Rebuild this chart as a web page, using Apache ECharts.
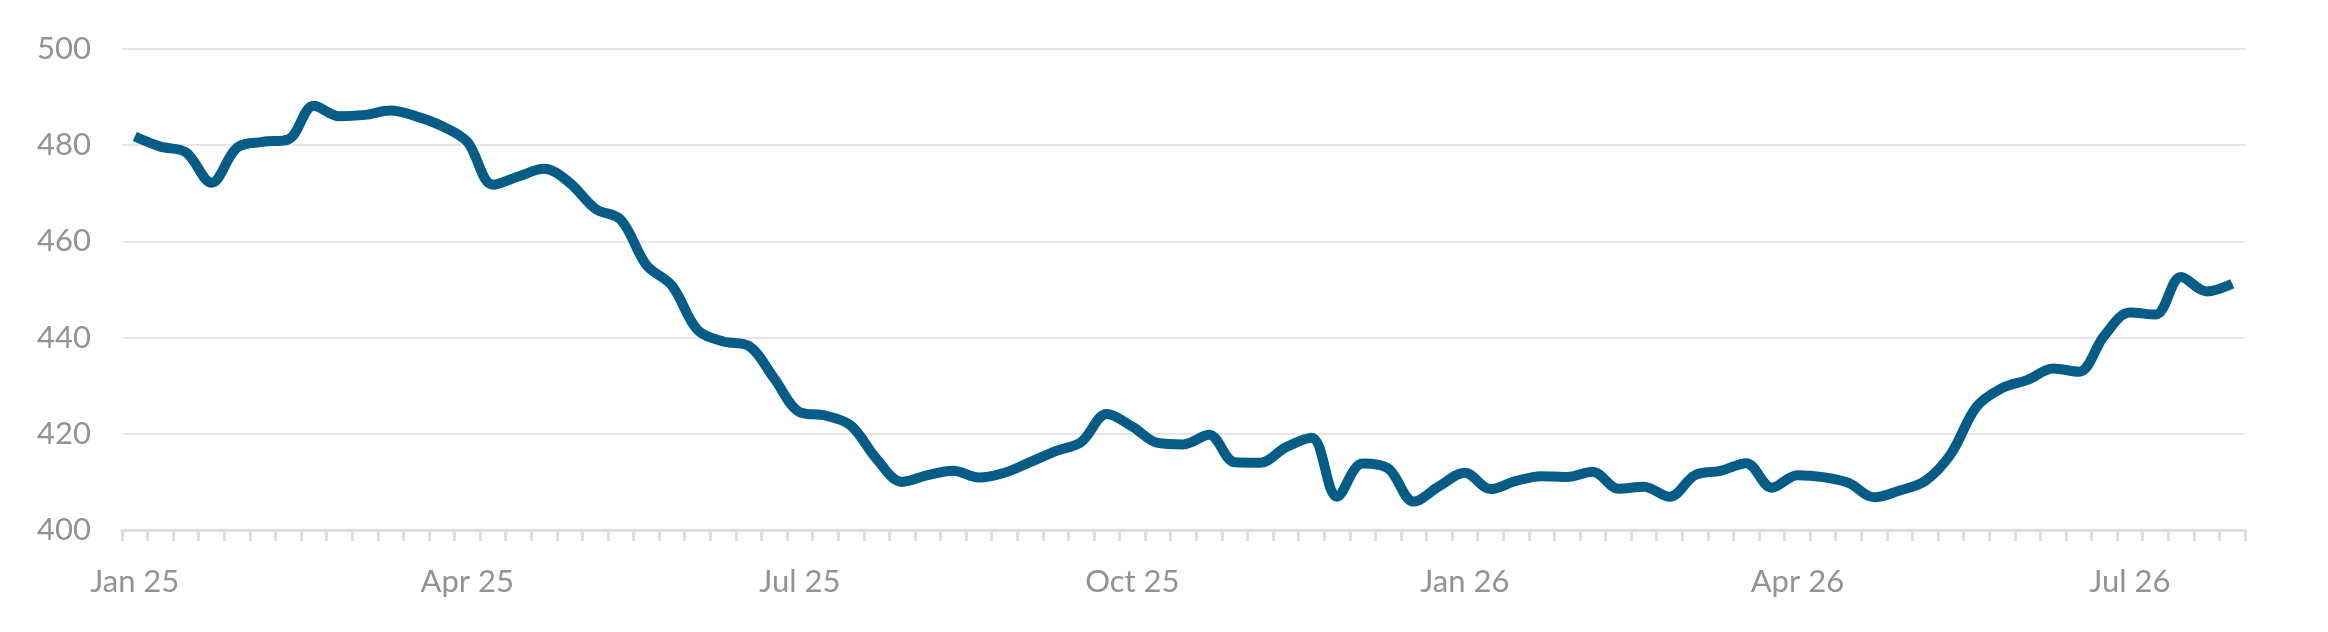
<!DOCTYPE html>
<html>
<head>
<meta charset="utf-8">
<script src="https://cdn.jsdelivr.net/npm/echarts@6/dist/echarts.min.js"></script>
<style>
html,body{margin:0;padding:0;background:#ffffff;}
#chart{width:2328px;height:632px;}
</style>
</head>
<body>
<div id="chart"></div>
<script>
// Weekly observation dates (category axis)
const weeks = [
  '2025-01-03','2025-01-10','2025-01-17','2025-01-24','2025-01-31',
  '2025-02-07','2025-02-14','2025-02-21','2025-02-28',
  '2025-03-07','2025-03-14','2025-03-21','2025-03-28',
  '2025-04-04','2025-04-11','2025-04-18','2025-04-25',
  '2025-05-02','2025-05-09','2025-05-16','2025-05-23','2025-05-30',
  '2025-06-06','2025-06-13','2025-06-20','2025-06-27',
  '2025-07-04','2025-07-11','2025-07-18','2025-07-25',
  '2025-08-01','2025-08-08','2025-08-15','2025-08-22','2025-08-29',
  '2025-09-05','2025-09-12','2025-09-19','2025-09-26',
  '2025-10-03','2025-10-10','2025-10-17','2025-10-24','2025-10-31',
  '2025-11-07','2025-11-14','2025-11-21','2025-11-28',
  '2025-12-05','2025-12-12','2025-12-19','2025-12-26',
  '2026-01-02','2026-01-09','2026-01-16','2026-01-23','2026-01-30',
  '2026-02-06','2026-02-13','2026-02-20','2026-02-27',
  '2026-03-06','2026-03-13','2026-03-20','2026-03-27',
  '2026-04-03','2026-04-10','2026-04-17','2026-04-24',
  '2026-05-01','2026-05-08','2026-05-15','2026-05-22','2026-05-29',
  '2026-06-05','2026-06-12','2026-06-19','2026-06-26',
  '2026-07-03','2026-07-10','2026-07-17','2026-07-24','2026-07-31'
];

// Series values
const values = [
  481.8, 479.7, 478.5, 472.2, 479.5, 480.7, 481.2, 488.2, 486.0, 486.3,
  487.2, 486.0, 484.0, 480.7, 471.8, 473.5, 475.1, 472.2, 466.8, 464.5,
  455.1, 450.8, 441.6, 439.2, 438.3, 431.5, 424.5, 423.8, 421.7, 414.8,
  410.0, 411.4, 412.3, 410.9, 411.9, 414.1, 416.4, 418.3, 424.1, 421.5,
  418.1, 417.8, 419.8, 414.1, 414.0, 417.2, 419.2, 406.9, 413.8, 412.8,
  405.9, 409.1, 411.9, 408.5, 410.2, 411.2, 411.0, 412.1, 408.6, 409.0,
  406.9, 411.4, 412.3, 413.9, 408.8, 411.4, 411.0, 409.8, 406.8, 408.2,
  410.2, 415.8, 425.6, 429.5, 431.2, 433.6, 432.9, 440.4, 445.2, 444.8,
  452.6, 449.6, 451.2
];

// Axis settings
const yMin = 400, yMax = 500, yStep = 20;
const monthNames = ['Jan','Feb','Mar','Apr','May','Jun','Jul','Aug','Sep','Oct','Nov','Dec'];

const chart = echarts.init(document.getElementById('chart'), null, {renderer: 'canvas'});
chart.setOption({
  animation: false,
  backgroundColor: '#ffffff',
  grid: {left: 122, right: 83, top: 49, bottom: 102, containLabel: false},
  xAxis: {
    type: 'category',
    data: weeks,
    boundaryGap: true,
    axisLine: {show: true, lineStyle: {color: '#dedede', width: 3}},
    axisTick: {show: true, interval: 0, length: 11, lineStyle: {color: '#dedede', width: 3}},
    axisLabel: {
      interval: 12,
      margin: 36,
      color: '#939393',
      fontFamily: 'Lato',
      fontSize: 31,
      formatter: function (v) {
        const p = v.split('-');
        return monthNames[parseInt(p[1], 10) - 1] + ' ' + p[0].slice(2);
      }
    },
    splitLine: {show: false}
  },
  yAxis: {
    type: 'value',
    min: yMin,
    max: yMax,
    interval: yStep,
    axisLine: {show: false},
    axisTick: {show: false},
    axisLabel: {margin: 31, color: '#939393', fontFamily: 'Lato', fontSize: 31},
    splitLine: {show: true, lineStyle: {color: '#e6e6e6', width: 2}}
  },
  series: [{
    type: 'line',
    data: values,
    smooth: 0.35,
    showSymbol: false,
    lineStyle: {color: '#055d87', width: 10, cap: 'butt', join: 'round'}
  }]
});
</script>
</body>
</html>
